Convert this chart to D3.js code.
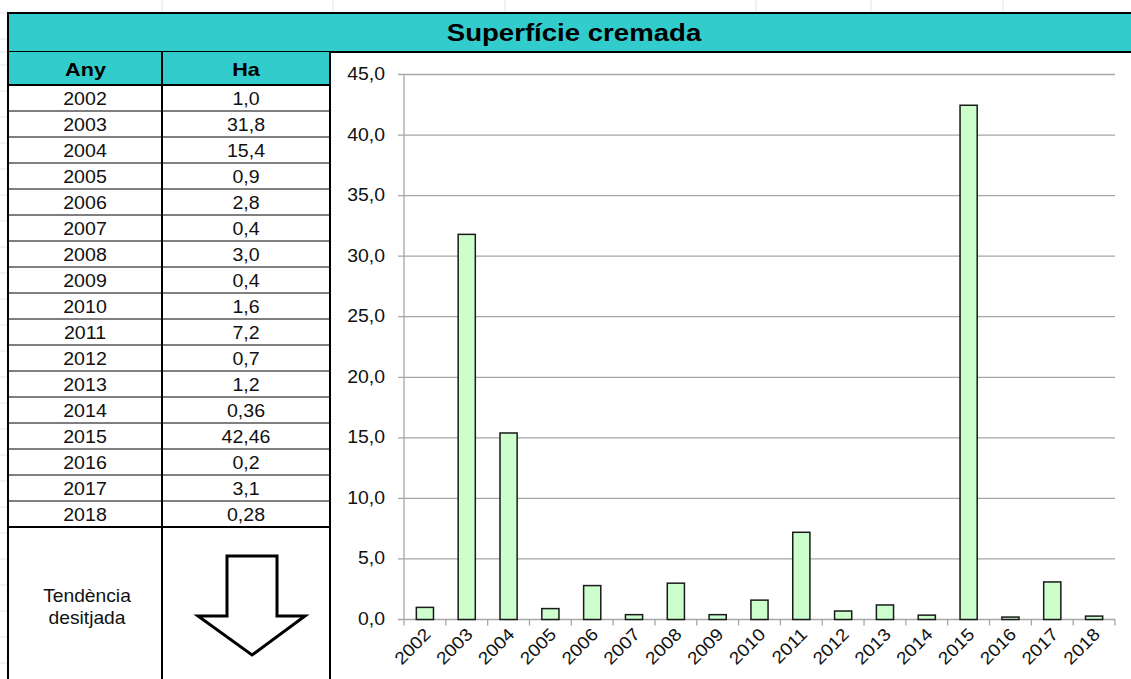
<!doctype html>
<html lang="ca">
<head>
<meta charset="utf-8">
<title>Superfície cremada</title>
<script src="https://cdn.jsdelivr.net/npm/d3@7"></script>
<style>
  body { margin: 0; background: #fff; }
  svg { display: block; font-family: "Liberation Sans", Arial, sans-serif; }
</style>
</head>
<body>
<script>
// data read from the sheet
var years = ["2002","2003","2004","2005","2006","2007","2008","2009","2010",
             "2011","2012","2013","2014","2015","2016","2017","2018"];
var hectares = [1.0, 31.8, 15.4, 0.9, 2.8, 0.4, 3.0, 0.4, 1.6,
                7.2, 0.7, 1.2, 0.36, 42.46, 0.2, 3.1, 0.28];
var haLabels = ["1,0","31,8","15,4","0,9","2,8","0,4","3,0","0,4","1,6",
                "7,2","0,7","1,2","0,36","42,46","0,2","3,1","0,28"];
var yTicks = [0, 5, 10, 15, 20, 25, 30, 35, 40, 45];

var W = 1131, H = 679;
var teal = "#33cccc";

var svg = d3.select("body").append("svg")
    .attr("width", W).attr("height", H);

var ca = d3.formatLocale({decimal: ",", thousands: ".", grouping: [3], currency: ["", " €"]});
var fmt = ca.format(".1f");

// the sheet font is drawn a bit wide, so stretch text horizontally
function label(g, x, y, str, size, sx, bold) {
  return g.append("text")
    .attr("transform", "translate(" + x + "," + y + ") scale(" + sx + ",1)")
    .attr("text-anchor", "middle")
    .attr("font-size", size)
    .attr("font-weight", bold ? "bold" : null)
    .attr("fill", "#111")
    .text(str);
}

// faint spreadsheet grid around the frame
var faint = "#dfe3ea";
[162, 333, 505, 756, 871, 1003].forEach(function(x) {
  svg.append("line").attr("x1", x).attr("x2", x).attr("y1", 0).attr("y2", 12)
     .attr("stroke", faint);
});
d3.range(13, H, 26).concat([52]).forEach(function(y) {
  svg.append("line").attr("x1", 0).attr("x2", 7).attr("y1", y).attr("y2", y)
     .attr("stroke", faint);
});

// title bar
svg.append("rect").attr("x", 8).attr("y", 13).attr("width", W).attr("height", 39)
   .attr("fill", teal).attr("stroke", "#000").attr("stroke-width", 2);
label(svg, 574, 41, "Superfície cremada", 23, 1.2, true).attr("fill", "#000");

// table
var colX = [8, 162, 330];
var rowTop = 85, rowH = 26;

svg.append("rect").attr("x", 8).attr("y", 52).attr("width", 322).attr("height", 33)
   .attr("fill", teal);
svg.append("line").attr("x1", 8).attr("x2", 330).attr("y1", 85).attr("y2", 85)
   .attr("stroke", "#000").attr("stroke-width", 2);
label(svg, 85.5, 76, "Any", 18, 1.2, true).attr("fill", "#000");
label(svg, 246, 76, "Ha", 18, 1.2, true).attr("fill", "#000");

var rows = svg.selectAll(".row").data(years).enter().append("g")
    .attr("transform", function(d, i) { return "translate(0," + (rowTop + i * rowH) + ")"; });
rows.append("line").attr("x1", 8).attr("x2", 330).attr("y1", rowH).attr("y2", rowH)
    .attr("stroke", "#000").attr("stroke-width", function(d, i) { return i == years.length - 1 ? 2 : 1; });
rows.each(function(d, i) {
  var g = d3.select(this);
  label(g, 85, 19.5, d, 17.5, 1.12);
  label(g, 246, 19.5, haLabels[i], 17.5, 1.12);
});

colX.forEach(function(x) {
  svg.append("line").attr("x1", x).attr("x2", x).attr("y1", 52).attr("y2", H)
     .attr("stroke", "#000").attr("stroke-width", 2);
});

// desired trend cell
label(svg, 87, 602, "Tendència", 17.5, 1.1);
label(svg, 87, 624, "desitjada", 17.5, 1.1);
svg.append("path")
   .attr("d", "M227,556 L277,556 L277,616 L305,616 L252,655 L198,616 L227,616 Z")
   .attr("fill", "#fff").attr("stroke", "#000").attr("stroke-width", 3)
   .attr("stroke-linejoin", "miter");

// chart
var plotL = 404, plotR = 1115, plotT = 74.5, plotB = 619.5;
var x = d3.scaleBand().domain(years).range([plotL, plotR]).paddingInner(0.59).paddingOuter(0.295);
var xb = d3.scaleBand().domain(years).range([plotL, plotR]);
var y = d3.scaleLinear().domain([0, 45]).range([plotB, plotT]);

svg.append("g").selectAll("line").data(yTicks).enter().append("line")
   .attr("x1", plotL - 6).attr("x2", plotR)
   .attr("y1", function(d) { return y(d); }).attr("y2", function(d) { return y(d); })
   .attr("stroke", "#a6a6a6").attr("stroke-width", 1.3);

svg.append("g").selectAll("text").data(yTicks).enter().append("text")
   .attr("transform", function(d) { return "translate(385," + (y(d) + 5.5) + ") scale(1.08,1)"; })
   .attr("text-anchor", "end").attr("font-size", 18).attr("fill", "#111")
   .text(function(d) { return fmt(d); });

svg.append("line").attr("x1", plotL).attr("x2", plotL).attr("y1", plotT).attr("y2", plotB)
   .attr("stroke", "#a6a6a6").attr("stroke-width", 1.3);

// x ticks at band edges
var edges = years.map(function(d) { return xb(d); }).concat([plotR]);
svg.append("g").selectAll("line").data(edges).enter().append("line")
   .attr("x1", function(d) { return d; }).attr("x2", function(d) { return d; })
   .attr("y1", plotB).attr("y2", plotB + 6)
   .attr("stroke", "#a6a6a6").attr("stroke-width", 1.3);

svg.append("g").selectAll("rect").data(years).enter().append("rect")
   .attr("x", function(d) { return x(d); })
   .attr("width", x.bandwidth())
   .attr("y", function(d, i) { return y(hectares[i]); })
   .attr("height", function(d, i) { return plotB - y(hectares[i]); })
   .attr("fill", "#ccffcc").attr("stroke", "#1a1a1a").attr("stroke-width", 1.5);

svg.append("g").selectAll("text").data(years).enter().append("text")
   .attr("transform", function(d) {
     return "translate(" + (xb(d) + xb.bandwidth() / 2 + 7) + "," + (plotB + 16) + ") rotate(-45) scale(1.1,1)";
   })
   .attr("text-anchor", "end").attr("font-size", 17.5).attr("fill", "#111")
   .text(function(d) { return d; });
</script>
</body>
</html>
